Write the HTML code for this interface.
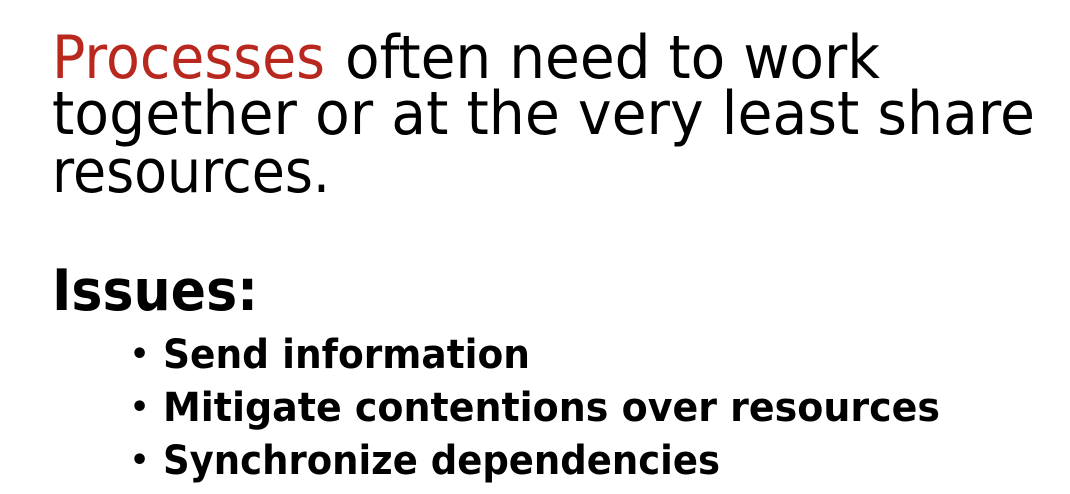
<!DOCTYPE html>
<html><head><meta charset="utf-8"><style>
html,body{margin:0;padding:0;background:#fff;}
svg{display:block;}
text{font-family:"DejaVu Sans","Liberation Sans",sans-serif;fill:#000;}
</style></head><body>
<svg width="1070" height="494" viewBox="0 0 1070 494" xmlns="http://www.w3.org/2000/svg">
<text x="52" y="78" font-size="60" textLength="273" lengthAdjust="spacingAndGlyphs" style="fill:#b8281e">Processes</text>
<text x="345" y="78" font-size="60" textLength="535" lengthAdjust="spacingAndGlyphs">often need to work</text>
<text x="52" y="134" font-size="60" textLength="983" lengthAdjust="spacingAndGlyphs">together or at the very least share</text>
<text x="52" y="192" font-size="60" textLength="278" lengthAdjust="spacingAndGlyphs">resources.</text>
<text x="52" y="310" font-size="57" font-weight="bold" textLength="206" lengthAdjust="spacingAndGlyphs">Issues:</text>
<text x="130" y="364" font-size="30" font-weight="bold">•</text>
<text x="163" y="368" font-size="40" font-weight="bold" textLength="367" lengthAdjust="spacingAndGlyphs">Send information</text>
<text x="130" y="417" font-size="30" font-weight="bold">•</text>
<text x="163" y="421" font-size="40" font-weight="bold" textLength="777" lengthAdjust="spacingAndGlyphs">Mitigate contentions over resources</text>
<text x="130" y="470" font-size="30" font-weight="bold">•</text>
<text x="163" y="474" font-size="40" font-weight="bold" textLength="557" lengthAdjust="spacingAndGlyphs">Synchronize dependencies</text>
</svg>
</body></html>
